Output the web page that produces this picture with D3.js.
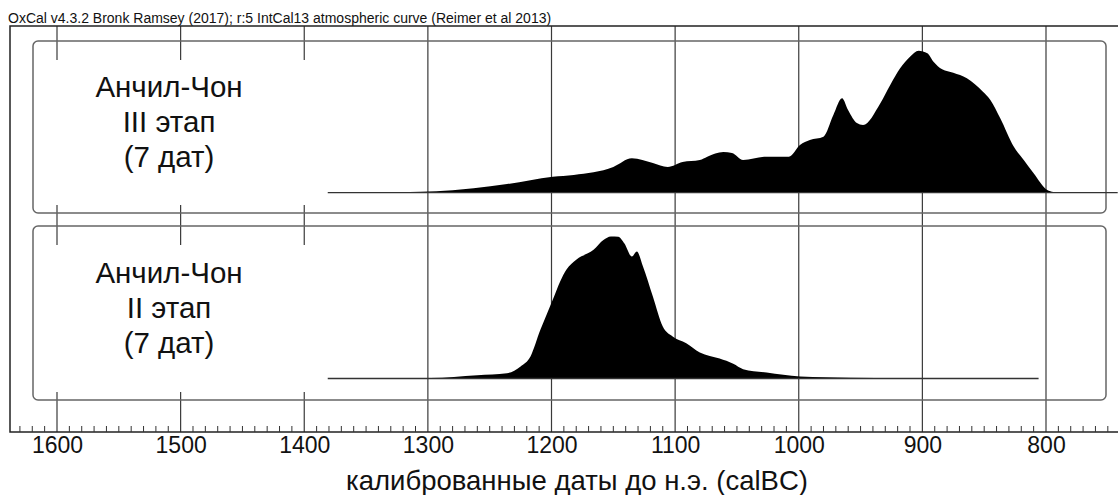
<!DOCTYPE html>
<html>
<head>
<meta charset="utf-8">
<script src="https://cdn.jsdelivr.net/npm/d3@7"></script>
<style>
  html, body { margin: 0; padding: 0; background: #fff; }
  svg { display: block; }
  text { font-family: "Liberation Sans", Arial, sans-serif; fill: #111; }
</style>
</head>
<body>
<svg id="chart" width="1118" height="495"></svg>
<script>
// ---------- data ----------
const chartTitle = "OxCal v4.3.2 Bronk Ramsey (2017); r:5 IntCal13 atmospheric curve (Reimer et al 2013)";
const axisTitle = "калиброванные даты до н.э. (calBC)";
const majorTicks = [1600, 1500, 1400, 1300, 1200, 1100, 1000, 900, 800];

const phaseLabels = [
  ["Анчил-Чон", "III этап", "(7 дат)"],
  ["Анчил-Чон", "II этап", "(7 дат)"]
];

// Phase III (top) probability density, relative to peak
const phase3Years = [1381, 1340, 1306, 1280, 1263, 1236, 1199, 1182, 1150, 1135, 1118, 1106, 1094, 1080, 1074, 1061, 1054, 1045, 1026, 1008, 999, 991, 980, 972, 965, 960, 953, 948, 934, 926, 918, 910, 903, 896, 891, 884, 875, 864, 851, 845, 837, 826, 818, 810, 799, 794, 790];
const phase3Dens  = [0, 0.002, 0.007, 0.018, 0.031, 0.061, 0.113, 0.125, 0.181, 0.242, 0.209, 0.181, 0.216, 0.23, 0.254, 0.287, 0.28, 0.23, 0.254, 0.254, 0.336, 0.371, 0.394, 0.547, 0.665, 0.58, 0.49, 0.477, 0.63, 0.758, 0.876, 0.958, 1.0, 0.982, 0.923, 0.869, 0.845, 0.806, 0.711, 0.653, 0.524, 0.324, 0.23, 0.137, 0.019, 0.005, 0];
const phase3Range = [1381, 742];

// Phase II (bottom) probability density, relative to peak
const phase2Years = [1381, 1298, 1260, 1236, 1225, 1217, 1209, 1204, 1199, 1193, 1188, 1180, 1166, 1158, 1152, 1146, 1141, 1135, 1131, 1126, 1118, 1110, 1102, 1091, 1080, 1064, 1053, 1045, 1026, 999, 958, 918, 870, 806];
const phase2Dens  = [0, 0.003, 0.023, 0.037, 0.085, 0.155, 0.343, 0.449, 0.554, 0.683, 0.765, 0.836, 0.906, 0.975, 1.0, 0.998, 0.95, 0.859, 0.894, 0.789, 0.577, 0.366, 0.296, 0.249, 0.183, 0.14, 0.104, 0.066, 0.042, 0.014, 0.005, 0.001, 0, 0];
const phase2Range = [1381, 806];

// ---------- layout ----------
const W = 1118, H = 495;
const frameLeft = 10, frameTop = 26, axisY = 432;
const panelLeft = 33, panelRight = 1106;
const panels = [
  { top: 41, bottom: 213, base: 192.7, years: phase3Years, dens: phase3Dens, range: phase3Range, labels: phaseLabels[0] },
  { top: 226, bottom: 400, base: 378.5, years: phase2Years, dens: phase2Dens, range: phase2Range, labels: phaseLabels[1] }
];
const peakHeight = 142;

const svg = d3.select("#chart");
const x = d3.scaleLinear().domain([1600, 800]).range([57, 1046]);
const yearAtRight = x.invert(W);
const yearAtLeft = x.invert(frameLeft);

// title
svg.append("text")
  .attr("x", 8).attr("y", 23)
  .attr("font-size", 14)
  .text(chartTitle);

// gridlines (full height)
const grid = svg.append("g").attr("stroke", "#3a3a3a").attr("stroke-width", 1.2);
grid.selectAll("line").data(majorTicks).join("line")
  .attr("x1", d => x(d)).attr("x2", d => x(d))
  .attr("y1", frameTop).attr("y2", axisY);

// panels: white label masks, borders
panels.forEach(p => {
  svg.append("rect")
    .attr("x", panelLeft + 1).attr("y", p.top + 19)
    .attr("width", x(1381) - panelLeft - 4).attr("height", p.bottom - 8 - (p.top + 19))
    .attr("fill", "#fff");
  svg.append("rect")
    .attr("x", panelLeft).attr("y", p.top)
    .attr("width", panelRight - panelLeft).attr("height", p.bottom - p.top)
    .attr("rx", 5).attr("ry", 5)
    .attr("fill", "none").attr("stroke", "#666").attr("stroke-width", 1.5);
});

// distributions
panels.forEach(p => {
  const y = d3.scaleLinear().domain([0, 1]).range([p.base, p.base - peakHeight]);
  const pts = p.years.map((yr, i) => [yr, p.dens[i]]);
  const area = d3.area()
    .x(d => x(d[0])).y0(y(0)).y1(d => y(d[1]))
    .curve(d3.curveMonotoneX);
  svg.append("path").datum(pts).attr("d", area).attr("fill", "#000");
  svg.append("line")
    .attr("x1", x(p.range[0])).attr("x2", Math.min(W, x(p.range[1])))
    .attr("y1", y(0)).attr("y2", y(0))
    .attr("stroke", "#333").attr("stroke-width", 1.3);
  const cx = 169;
  const mid = (p.top + p.bottom) / 2;
  svg.append("g").selectAll("text").data(p.labels).join("text")
    .attr("x", cx)
    .attr("y", (d, i) => mid - 30 + i * 35)
    .attr("text-anchor", "middle")
    .attr("font-size", 29.5)
    .text(d => d);
});

// outer frame
svg.append("path")
  .attr("d", `M${W},${frameTop}H${frameLeft}V${axisY}H${W}`)
  .attr("fill", "none").attr("stroke", "#222").attr("stroke-width", 1.5);

// minor ticks
const minor = d3.range(Math.ceil(yearAtRight / 10) * 10, yearAtLeft, 10).filter(d => d % 100 !== 0);
svg.append("g").attr("stroke", "#333").attr("stroke-width", 1)
  .selectAll("line").data(minor).join("line")
  .attr("x1", d => x(d)).attr("x2", d => x(d))
  .attr("y1", axisY - 6).attr("y2", axisY);

// axis labels via d3 axis
const axis = d3.axisBottom(x).tickValues(majorTicks).tickSize(0).tickPadding(0).tickFormat(d3.format("d"));
const ag = svg.append("g").attr("transform", `translate(0,${axisY + 3})`).call(axis);
ag.select(".domain").remove();
ag.selectAll("text")
  .attr("font-size", 23)
  .attr("font-family", "Liberation Sans, Arial, sans-serif")
  .attr("fill", "#111")
  .attr("dy", "0.8em");

// axis title
svg.append("text")
  .attr("x", 577).attr("y", 490)
  .attr("text-anchor", "middle")
  .attr("font-size", 27.5)
  .text(axisTitle);
</script>
</body>
</html>
